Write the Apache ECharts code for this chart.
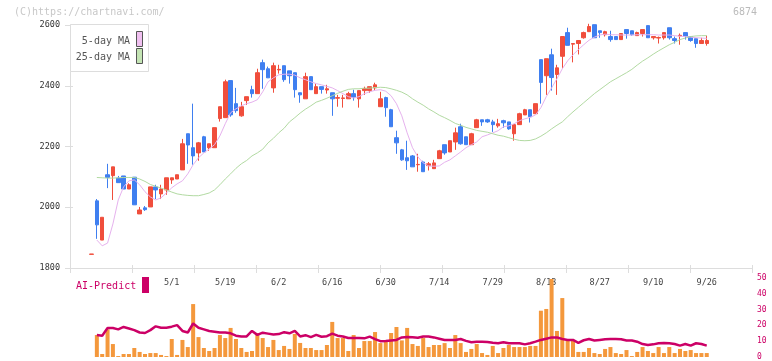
<!DOCTYPE html>
<html><head><meta charset="utf-8">
<script src="https://cdn.jsdelivr.net/npm/echarts@6/dist/echarts.min.js"></script>
<style>html,body{margin:0;padding:0;background:#fff}#c{width:772px;height:361px}</style>
</head><body><div id="c"></div>
<script>
const dates = ['4/9','4/10','4/11','4/14','4/15','4/16','4/17','4/18','4/21','4/22','4/23','4/24','4/25','4/28','4/30',
'5/1','5/2','5/7','5/8','5/9','5/12','5/13','5/14','5/15','5/16','5/19','5/20','5/21','5/22','5/23','5/26','5/27','5/28','5/29','5/30',
'6/2','6/3','6/4','6/5','6/6','6/9','6/10','6/11','6/12','6/13','6/16','6/17','6/18','6/19','6/20','6/23','6/24','6/25','6/26','6/27',
'6/30','7/1','7/2','7/3','7/4','7/7','7/8','7/9','7/10','7/11','7/14','7/15','7/16','7/17','7/18','7/22','7/23','7/24','7/25','7/28',
'7/29','7/30','7/31','8/1','8/4','8/5','8/6','8/7','8/8','8/12','8/13','8/14','8/15','8/18','8/19','8/20','8/21','8/22','8/25','8/26',
'8/27','8/28','8/29','9/1','9/2','9/3','9/4','9/5','9/8','9/9','9/10','9/11','9/12','9/16','9/17','9/18','9/19','9/22','9/24','9/25','9/26'];

const opens = [1845,2021,1892,2107,2104,2096,2103,2060,2099,1978,
1998,2001,2067,2044,2057,2090,2093,2123,2242,2196,
2179,2232,2196,2196,2292,2295,2417,2341,2301,2351,
2387,2374,2476,2456,2393,2452,2466,2449,2443,2377,
2357,2430,2374,2397,2386,2377,2359,2358,2357,2374,
2357,2384,2384,2393,2331,2361,2321,2229,2189,2163,
2169,2140,2149,2137,2127,2160,2206,2182,2215,2265,
2232,2206,2262,2288,2288,2281,2268,2285,2281,2242,
2272,2304,2321,2308,2486,2433,2502,2437,2497,2575,
2537,2539,2558,2578,2601,2581,2568,2562,2562,2552,
2585,2581,2565,2572,2598,2558,2557,2558,2591,2555,
2564,2575,2562,2555,2539,2539];

const closes = [1846,1942,1967,2098,2133,2081,2060,2074,2008,1991,
1992,2067,2057,2060,2097,2097,2107,2209,2205,2169,
2212,2182,2209,2262,2331,2413,2304,2318,2331,2364,
2374,2443,2453,2426,2466,2454,2420,2433,2387,2370,
2430,2387,2397,2388,2390,2357,2361,2360,2374,2361,
2384,2391,2397,2403,2357,2328,2265,2212,2156,2153,
2133,2141,2117,2143,2146,2186,2179,2219,2245,2209,
2206,2242,2288,2281,2281,2272,2275,2278,2258,2272,
2308,2321,2298,2341,2411,2489,2427,2459,2562,2533,
2539,2549,2575,2595,2558,2575,2578,2552,2552,2572,
2572,2568,2575,2585,2558,2562,2559,2575,2558,2549,
2566,2562,2549,2539,2549,2549];

const lows = [1845,1896,1892,2063,2024,2081,2060,2060,2008,1978,
1988,2001,2027,2027,2041,2077,2093,2123,2143,2140,
2153,2182,2186,2196,2282,2295,2298,2311,2298,2337,
2361,2374,2390,2426,2377,2440,2413,2407,2361,2344,
2357,2387,2374,2374,2374,2301,2331,2328,2357,2351,
2328,2370,2377,2384,2331,2298,2265,2176,2153,2123,
2133,2117,2117,2121,2127,2160,2173,2182,2189,2206,
2206,2206,2262,2268,2278,2248,2262,2262,2255,2219,
2272,2304,2279,2308,2341,2370,2384,2370,2457,2533,
2477,2503,2555,2578,2558,2558,2562,2545,2552,2552,
2555,2565,2565,2562,2558,2552,2539,2552,2552,2539,
2535,2552,2545,2525,2539,2532];

const highs = [1846,2027,1967,2143,2133,2103,2103,2079,2099,2001,
2004,2067,2074,2074,2097,2097,2107,2225,2242,2341,
2215,2235,2209,2262,2331,2420,2417,2393,2347,2364,
2400,2456,2486,2463,2476,2469,2466,2449,2443,2377,
2443,2430,2407,2397,2403,2377,2370,2370,2380,2387,
2384,2397,2397,2410,2380,2364,2324,2252,2192,2219,
2172,2176,2153,2149,2156,2189,2206,2219,2262,2275,
2232,2245,2291,2288,2291,2288,2291,2288,2281,2272,
2311,2324,2321,2341,2486,2489,2522,2469,2562,2591,
2539,2549,2578,2604,2601,2581,2581,2581,2562,2572,
2585,2581,2578,2585,2598,2562,2562,2575,2591,2562,
2572,2575,2562,2555,2558,2565];

const ma5 = [null,1892,1873,1882,1945,2024,2067,2087,2090,2074,
2051,2034,2024,2031,2047,2064,2077,2087,2110,2140,
2163,2179,2192,2206,2235,2275,2311,2324,2334,2341,
2346,2354,2380,2413,2426,2436,2438,2438,2435,2426,
2420,2413,2407,2403,2398,2393,2384,2374,2364,2360,
2364,2374,2380,2385,2387,2382,2367,2341,2301,2245,
2196,2166,2146,2136,2135,2136,2148,2156,2169,2182,
2196,2206,2215,2232,2238,2245,2252,2265,2268,2275,
2285,2291,2296,2304,2328,2364,2393,2423,2456,2482,
2502,2519,2535,2550,2560,2567,2570,2568,2568,2567,
2567,2567,2568,2568,2568,2568,2567,2567,2567,2565,
2563,2562,2560,2558,2557,2556];

const ma25 = [null,2098,2097,2096,2096,2097,2098,2098,2098,2093,
2085,2075,2069,2063,2057,2050,2044,2041,2039,2038,
2038,2042,2047,2057,2074,2093,2110,2128,2143,2154,
2169,2179,2191,2212,2227,2245,2260,2281,2295,2310,
2323,2334,2346,2352,2359,2367,2375,2382,2388,2390,
2390,2392,2392,2394,2395,2394,2390,2385,2379,2370,
2357,2346,2336,2324,2314,2303,2295,2286,2276,2270,
2263,2258,2253,2250,2247,2242,2237,2234,2229,2224,
2220,2219,2220,2225,2234,2245,2258,2270,2281,2298,
2314,2329,2344,2359,2374,2387,2400,2413,2423,2433,
2443,2454,2468,2481,2492,2504,2515,2525,2535,2543,
2552,2557,2562,2564,2565,2565];

const volume = [null,13.9,1.9,17.5,8.2,0.6,1.9,1.9,5.7,3.2,
1.9,2.5,2.5,1.3,0.6,11.4,1.3,10.8,6.3,33.5,
12.6,5.7,3.8,5.7,13.9,12,18.4,11.4,5.7,3.2,
3.8,15.2,12,6.3,10.8,4.4,7,5.1,14.6,8.9,
5.7,5.7,4.4,4.4,7.6,22.2,12,12,3.8,13.9,
5.7,10.1,10.1,15.8,8.8,10.1,15.2,19,10.5,18.4,
8.2,7,12,6.3,7.6,7.6,8.8,5.7,13.9,8.8,
3.2,5.1,8.2,2.5,1.3,7,2.5,5.7,7.6,6.3,
6.3,6.3,7,7,29.3,30.4,49.4,16.5,37.3,10.8,
10.8,3.2,3.2,5.7,2.5,1.9,5.1,6.3,2.5,1.9,
4.4,0.6,3.2,6.3,3.8,2.5,6.3,2.5,6.3,2.5,
5.1,3.8,4.4,2.5,2.5,2.5];

const aiPredict = [null,13.9,13.5,18.4,18.3,17.5,19,18,17,15.5,
15.2,17,19.4,18.5,18.5,19.2,20.2,16.5,15.5,21.2,
18.5,17.5,16.5,16,15.5,15.5,15,13.5,13,13,
16.5,14,15.4,14.8,14.2,14.5,15.7,15,16.5,13,
13.8,12.6,14,12.8,13.2,14.8,13.5,13,12,12,
12,11.8,12.9,11.3,10,10.2,10.5,10.8,12.4,12.6,
12.5,12.2,13,13,12.4,11.6,10.8,10.8,10.8,11.4,
10.2,9.3,9.7,9.7,9.5,9,8.7,9.3,8.7,8.7,
8.7,8,8.7,9.7,10.8,11.6,12.4,12.4,11.4,10.8,
10.8,9,10.6,11.4,10.4,10.8,11.2,11.4,11.4,11.2,
10.4,10.4,9.7,8.2,7.6,8,8.7,8.9,8.7,8.2,
7.2,8.2,7.2,8.7,8.2,7.2];

const labelDates = ['5/1','5/19','6/2','6/16','6/30','7/14','7/29','8/13','8/27','9/10','9/26'];

const MONO = '"DejaVu Sans Mono", monospace';
const candles = dates.map((d, i) => [opens[i], closes[i], lows[i], highs[i]]);

const chart = echarts.init(document.getElementById('c'), null, {renderer: 'canvas'});
const frameGrid = {left: 70, top: 25, width: 682, height: 243};
const plotGrid = {left: 91.5, top: 25, width: 615.25, height: 243};
const subGrid = {left: 91.5, top: 278, width: 615.25, height: 79};
const subFrame = {left: 70, top: 278, width: 682, height: 79};
const hidden = {show: false};

chart.setOption({
  animation: false,
  backgroundColor: '#fff',
  grid: [frameGrid, plotGrid, subGrid, subFrame],
  xAxis: [
    {gridIndex: 0, type: 'value', min: 0, max: 11, interval: 1, position: 'bottom',
     axisLine: {show: true, lineStyle: {color: '#dddddd', width: 1}},
     axisTick: {show: true, length: 5, lineStyle: {color: '#dddddd'}},
     axisLabel: hidden, splitLine: hidden},
    {gridIndex: 0, type: 'value', min: 0, max: 11, interval: 1, position: 'bottom',
     axisLine: hidden,
     axisTick: {show: true, inside: true, length: 3, lineStyle: {color: '#dddddd'}},
     axisLabel: hidden, splitLine: hidden},
    {gridIndex: 1, type: 'category', data: dates, boundaryGap: false,
     axisLine: hidden, axisTick: hidden, splitLine: hidden,
     axisLabel: {show: true, margin: 10, color: '#444', fontSize: 8.5, fontFamily: MONO,
       interval: (idx, val) => labelDates.indexOf(val) >= 0}},
    {gridIndex: 2, type: 'category', data: dates, boundaryGap: false,
     axisLine: hidden, axisTick: hidden, axisLabel: hidden, splitLine: hidden},
    {gridIndex: 3, type: 'value', min: 0, max: 1, show: false}
  ],
  yAxis: [
    {gridIndex: 0, type: 'value', min: 1800, max: 2600, interval: 200, position: 'left',
     axisLine: {show: true, lineStyle: {color: '#dddddd'}},
     axisTick: {show: true, length: 5, lineStyle: {color: '#dddddd'}},
     axisLabel: {margin: 10, color: '#333', fontSize: 8.5, fontFamily: MONO, formatter: v => String(v)},
     splitLine: hidden},
    {gridIndex: 0, type: 'value', min: 1800, max: 2600, interval: 200, position: 'left',
     axisLine: hidden,
     axisTick: {show: true, inside: true, length: 3, lineStyle: {color: '#dddddd'}},
     axisLabel: hidden, splitLine: hidden},
    {gridIndex: 1, type: 'value', min: 1800, max: 2600, show: false},
    {gridIndex: 2, type: 'value', min: 0, max: 50, show: false},
    {gridIndex: 3, type: 'value', min: 0, max: 50, interval: 10, position: 'right',
     axisLine: hidden, axisTick: hidden, splitLine: hidden,
     axisLabel: {margin: 5, color: '#cc0066', fontSize: 8, fontFamily: MONO, formatter: v => String(v)}}
  ],
  series: [
    {type: 'candlestick', xAxisIndex: 2, yAxisIndex: 2, data: candles, barWidth: 4,
     itemStyle: {color: '#f04e3c', color0: '#3f7ff0', borderColor: '#f04e3c', borderColor0: '#3f7ff0', borderWidth: 1},
     z: 2},
    {type: 'line', xAxisIndex: 2, yAxisIndex: 2, data: ma5, symbol: 'none', connectNulls: false,
     lineStyle: {color: '#e6b2ee', width: 1}, z: 3},
    {type: 'line', xAxisIndex: 2, yAxisIndex: 2, data: ma25, symbol: 'none',
     lineStyle: {color: '#b2daa2', width: 1}, z: 3},
    {type: 'bar', xAxisIndex: 3, yAxisIndex: 3, data: volume, barWidth: 4,
     itemStyle: {color: '#f4983c'}, z: 2},
    {type: 'line', xAxisIndex: 3, yAxisIndex: 3, data: aiPredict, symbol: 'none',
     lineStyle: {color: '#cc0066', width: 2.5}, z: 3}
  ],
  graphic: [
    {type: 'text', x: 14, y: 12, z: 100,
     style: {text: '(C)https://chartnavi.com/', fill: '#c8c8c8', font: '10px ' + MONO, verticalAlign: 'middle'}},
    {type: 'text', x: 757, y: 12, z: 100,
     style: {text: '6874', fill: '#bbbbbb', font: '10px ' + MONO, align: 'right', verticalAlign: 'middle'}},
    {type: 'rect', z: 100, shape: {x: 70.5, y: 24.5, width: 78, height: 47},
     style: {fill: '#ffffff', stroke: '#dddddd', lineWidth: 1}},
    {type: 'text', x: 130, y: 41, z: 101,
     style: {text: '5-day MA', fill: '#555', font: '10px ' + MONO, align: 'right', verticalAlign: 'middle'}},
    {type: 'text', x: 130, y: 57, z: 101,
     style: {text: '25-day MA', fill: '#555', font: '10px ' + MONO, align: 'right', verticalAlign: 'middle'}},
    {type: 'rect', z: 101, shape: {x: 136.5, y: 31.5, width: 6, height: 15},
     style: {fill: '#f0c0f0', stroke: '#555', lineWidth: 1}},
    {type: 'rect', z: 101, shape: {x: 136.5, y: 48.5, width: 6, height: 15},
     style: {fill: '#c4e4b4', stroke: '#555', lineWidth: 1}},
    {type: 'text', x: 76, y: 286, z: 100,
     style: {text: 'AI-Predict', fill: '#cc0066', font: '10px ' + MONO, verticalAlign: 'middle'}},
    {type: 'rect', z: 100, shape: {x: 142, y: 277, width: 7, height: 16},
     style: {fill: '#cc0066'}}
  ]
});
</script>
</body></html>
